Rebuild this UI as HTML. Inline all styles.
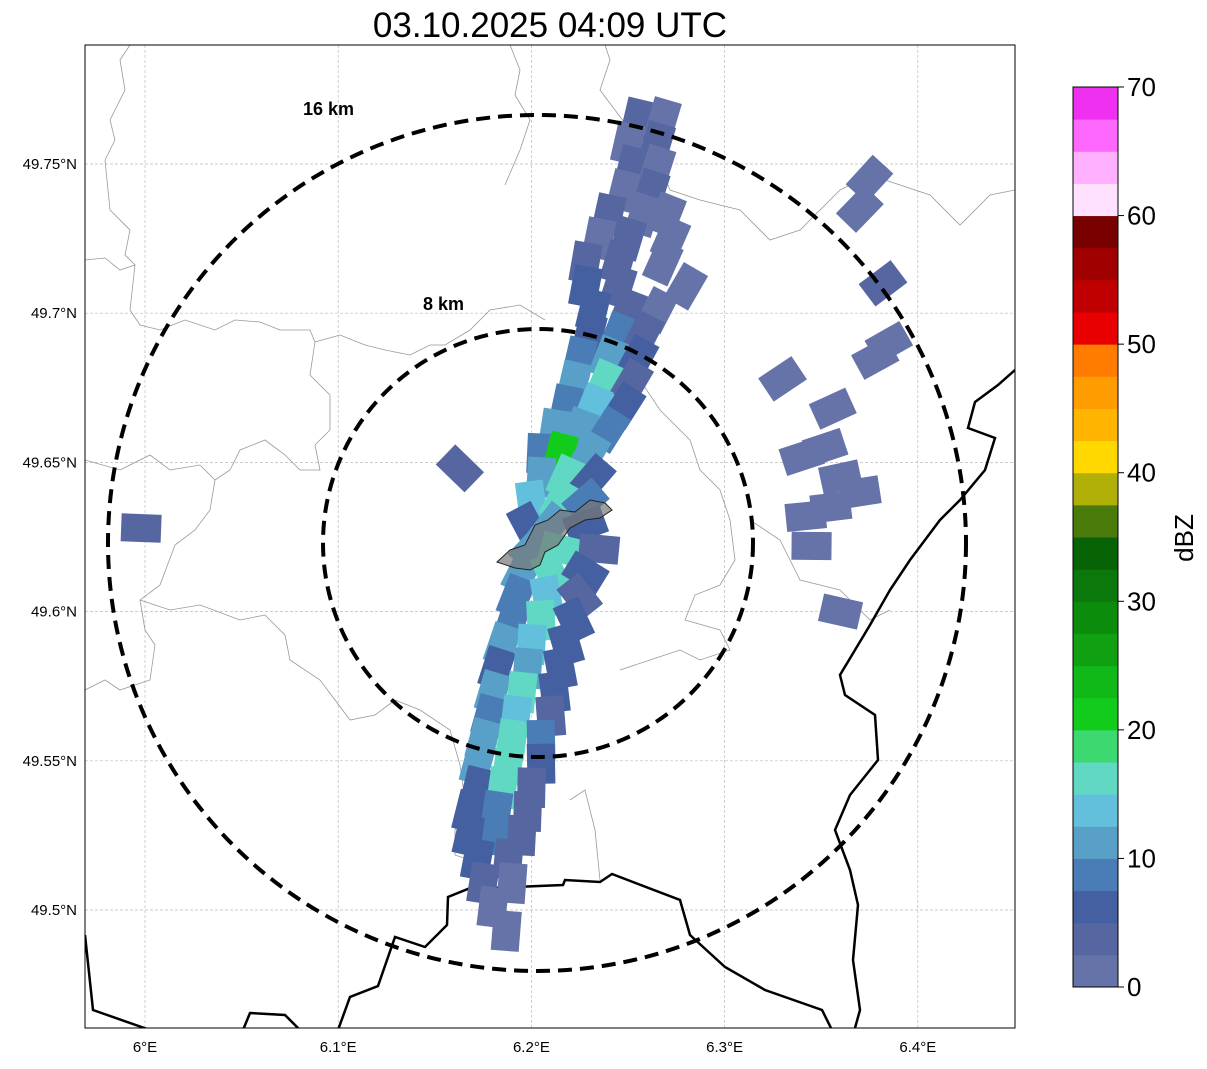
<!DOCTYPE html>
<html><head><meta charset="utf-8"><style>
body{margin:0;background:#fff;font-family:"Liberation Sans",sans-serif}
svg text{font-family:"Liberation Sans",sans-serif}
</style></head><body>
<svg id="chart" width="1207" height="1064" viewBox="0 0 1207 1064">
<text x="550" y="37" font-size="35" text-anchor="middle">03.10.2025 04:09 UTC</text>
<defs><clipPath id="mapclip"><rect x="85" y="45" width="930" height="983"/></clipPath></defs>
<g id="grid"></g>
<g clip-path="url(#mapclip)">
<g fill="none" stroke="#999" stroke-width="0.8">
<path d="M85,260 L105,258 L120,270 L135,265 L130,310 L140,325 L160,330 L185,320 L215,330 L235,320 L260,322 L280,330 L310,330 L315,342 L340,335 L365,345 L385,350 L410,355 L430,345 L445,345 L470,330 L490,310 L520,305 L545,320"/>
<path d="M105,160 L115,140 L110,120 L125,90 L120,60 L130,45"/>
<path d="M105,160 L110,210 L130,230 L125,255 L135,265"/>
<path d="M510,45 L520,70 L515,95 L530,120 L520,150 L505,185"/>
<path d="M605,45 L610,60 L600,90 L630,130 L640,150 L660,165 L670,190 L700,200 L740,210 L770,240 L800,230 L840,190 L870,175 L930,195 L960,225 L990,195 L1015,190"/>
<path d="M315,342 L310,375 L330,395 L330,430 L315,445 L320,470 L300,470 L285,455 L265,440 L240,450 L230,470 L215,480 L210,510 L195,530 L175,545 L160,585 L140,600 L145,630 L155,645 L150,680 L120,690 L105,680 L85,690"/>
<path d="M85,460 L120,470 L150,455 L170,470 L200,465 L215,480"/>
<path d="M140,600 L170,610 L200,605 L240,620 L265,615 L285,635 L290,660 L320,680 L335,700 L350,720 L375,715 L395,700 L420,710 L450,730 L460,765 L465,800 L455,830 L455,855 L470,860 L480,830 L480,790"/>
<path d="M570,800 L585,790 L595,830 L600,880"/>
<path d="M640,380 L660,410 L690,440 L700,470 L720,490 L730,520 L735,560 L720,585 L695,595 L685,620 L720,630 L730,650 L700,660 L680,650 L650,660 L620,670"/>
<path d="M750,520 L780,540 L800,580 L840,590 L870,620 L890,610"/>
</g>
<g fill="none" stroke="#000" stroke-width="2.5">
<path d="M1015,370 L998,385 L975,402 L968,428 L995,438 L985,470 L960,500 L940,520 L910,560 L890,590 L870,625 L855,650 L840,675 L845,695 L875,715 L878,760 L850,795 L835,830 L850,870 L858,905 L853,960 L860,1010 L855,1028"/>
<path d="M85,935 L93,1010 L150,1030"/>
<path d="M243,1030 L250,1013 L285,1015 L300,1030"/>
<path d="M338,1030 L350,997 L378,986 L395,937 L425,947 L447,925 L448,897 L490,880 L490,888 L563,885 L565,880 L600,882 L612,874 L680,900 L690,935 L725,967 L765,990 L822,1010 L832,1030"/>
</g>
<g id="cells"></g>
<path d="M497,562 L510,550 L525,545 L535,525 L548,520 L560,510 L575,512 L590,500 L605,503 L612,510 L600,518 L585,520 L570,528 L558,545 L545,552 L540,565 L530,570 L515,568 Z" fill="#777" fill-opacity="0.7" stroke="#222" stroke-width="1"/>
<g fill="none" stroke="#000" stroke-width="4" stroke-dasharray="14,8">
<ellipse cx="537" cy="543" rx="429" ry="428"/>
<ellipse cx="538" cy="543" rx="215" ry="214"/>
</g>
<text x="303" y="115" font-size="18" font-weight="bold">16 km</text>
<text x="423" y="310" font-size="18" font-weight="bold">8 km</text>
</g>
<rect x="85" y="45" width="930" height="983" fill="none" stroke="#000" stroke-width="1"/>
<g id="xticks"></g>
<g id="yticks"></g>
<g id="cbar"></g>
<text transform="translate(1193,538) rotate(-90)" font-size="26" text-anchor="middle">dBZ</text>
</svg>
<script>
const lonTicks=[6.0,6.1,6.2,6.3,6.4];
const lonLabels=["6°E","6.1°E","6.2°E","6.3°E","6.4°E"];
const latTicks=[49.75,49.7,49.65,49.6,49.55,49.5];
const latLabels=["49.75°N","49.7°N","49.65°N","49.6°N","49.55°N","49.5°N"];
const cbarTicks=[0,10,20,30,40,50,60,70];
const cbarColors=["#6673a8","#5566a0","#4460a0","#4a7db5","#58a0c8","#62c0dc","#60d8c4","#3ed870","#12cc1c","#10b818","#10a012","#0c8c0c","#0a780a","#066406","#4a7a0a","#b0b008","#ffd800","#ffb400","#ff9c00","#ff7c00","#e80000","#c00000","#a00000","#780000","#ffe0ff","#ffb0ff","#ff68ff","#f030f0"];
const cellLat=[49.765,49.765,49.757,49.757,49.749,49.749,49.741,49.741,49.733,49.733,49.733,49.725,49.725,49.725,49.717,49.717,49.717,49.709,49.709,49.709,49.701,49.701,49.701,49.693,49.693,49.693,49.685,49.685,49.685,49.677,49.677,49.677,49.669,49.669,49.669,49.661,49.661,49.661,49.653,49.653,49.653,49.645,49.645,49.645,49.637,49.637,49.637,49.629,49.629,49.629,49.621,49.621,49.621,49.613,49.613,49.613,49.605,49.605,49.605,49.597,49.597,49.597,49.589,49.589,49.589,49.581,49.581,49.581,49.573,49.573,49.573,49.565,49.565,49.565,49.557,49.557,49.557,49.549,49.549,49.549,49.541,49.541,49.541,49.533,49.533,49.533,49.525,49.525,49.525,49.517,49.517,49.509,49.509,49.501,49.493,
49.745,49.735,49.71,49.69,49.685,49.668,49.655,49.652,49.645,49.64,49.635,49.632,49.622,49.6,49.678,49.648,49.628];
const cellLon=[6.255,6.268,6.250,6.265,6.252,6.265,6.248,6.262,6.240,6.258,6.270,6.235,6.250,6.272,6.228,6.245,6.268,6.228,6.245,6.280,6.232,6.250,6.265,6.230,6.245,6.258,6.225,6.240,6.255,6.222,6.238,6.252,6.218,6.232,6.248,6.212,6.225,6.240,6.205,6.215,6.230,6.205,6.218,6.232,6.200,6.215,6.228,6.198,6.210,6.228,6.200,6.215,6.235,6.195,6.210,6.228,6.192,6.208,6.225,6.190,6.205,6.222,6.185,6.200,6.218,6.182,6.198,6.215,6.180,6.195,6.212,6.178,6.192,6.210,6.175,6.190,6.205,6.172,6.188,6.205,6.172,6.185,6.200,6.168,6.182,6.198,6.168,6.182,6.195,6.172,6.188,6.175,6.190,6.180,6.187,
6.375,6.370,6.382,6.385,6.378,6.356,6.352,6.340,6.360,6.370,6.355,6.342,6.345,6.360,6.330,6.163,5.998];
const cellDbz=[3,2,2,3,3,2,2,3,3,2,2,2,3,2,3,4,2,6,3,2,7,3,2,5,9,3,8,12,5,10,15,4,8,14,6,10,12,8,8,20,10,12,15,6,14,16,8,6,12,5,10,17,4,12,15,6,9,13,4,8,16,5,10,14,7,7,12,5,12,16,6,8,14,4,10,16,9,11,17,5,6,15,4,7,9,3,5,8,3,6,3,3,2,2,2,
2,2,3,2,2,2,2,2,2,2,2,2,2,2,2,3,3];
const NS="http://www.w3.org/2000/svg";
function xS(lon){return 145+(lon-6)*1932;}
function yS(lat){return 164+(49.75-lat)*2984;}
function cbY(v){return 987-v*900/70;}
function mk(tag,attrs,parent){const e=document.createElementNS(NS,tag);for(const k in attrs)e.setAttribute(k,attrs[k]);parent.appendChild(e);return e;}
const grid=document.getElementById('grid'),xt=document.getElementById('xticks'),yt=document.getElementById('yticks');
lonTicks.forEach((v,i)=>{const x=xS(v);
const l=mk('line',{x1:x,x2:x,y1:45,y2:1028,stroke:'#bbb','stroke-width':0.7,'stroke-dasharray':'3,2'},grid);


const t=mk('text',{x:x,y:1052,'font-size':15,'text-anchor':'middle'},xt);t.textContent=lonLabels[i];

});
latTicks.forEach((v,i)=>{const y=yS(v);
const l=mk('line',{x1:85,x2:1015,y1:y,y2:y,stroke:'#bbb','stroke-width':0.7,'stroke-dasharray':'3,2'},grid);


const t=mk('text',{x:77,y:y+5,'font-size':15,'text-anchor':'end'},yt);t.textContent=latLabels[i];

});
function colorFor(d){let i=Math.floor(d/2.5);if(i<0)i=0;if(i>27)i=27;return cbarColors[i];}
const cells=document.getElementById('cells');
cellLat.forEach((la,i)=>{const x=xS(cellLon[i]),y=yS(la);
const ang=Math.atan2(y-543,x-537)*180/Math.PI;
const r=mk('rect',{x:x-20,y:y-14,width:40,height:28,fill:colorFor(cellDbz[i]),transform:`rotate(${ang},${x},${y})`},cells);

});
const cb=document.getElementById('cbar');
for(let i=0;i<28;i++){const y1=cbY((i+1)*2.5),y0=cbY(i*2.5);
const r=mk('rect',{x:1073,y:y1,width:45,height:y0-y1+0.5,fill:cbarColors[i]},cb);

}
mk('rect',{x:1073,y:87,width:45,height:900,fill:'none',stroke:'#000','stroke-width':1},cb);
cbarTicks.forEach(v=>{const y=cbY(v);mk('line',{x1:1118,x2:1124,y1:y,y2:y,stroke:'#000'},cb);
const t=mk('text',{x:1127,y:y+9,'font-size':26},cb);t.textContent=v;

});
</script>
</body></html>
